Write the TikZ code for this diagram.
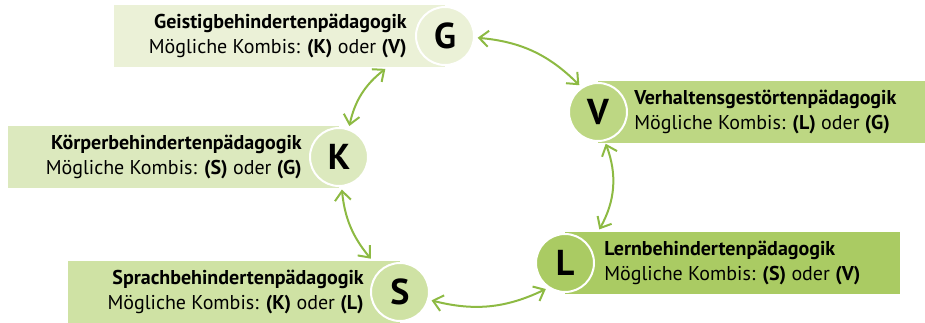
\documentclass[tikz,border=0pt]{standalone}
\usepackage{fontspec}
\setmainfont{PT Sans}
\usetikzlibrary{arrows.meta, calc}

\definecolor{gcol}{HTML}{EBF1D7}
\definecolor{kcol}{HTML}{DCE9BE}
\definecolor{scol}{HTML}{CFE2A4}
\definecolor{vcol}{HTML}{BDD783}
\definecolor{lcol}{HTML}{AACB63}
\definecolor{arrowcol}{HTML}{8DBA43}

\begin{document}
\begin{tikzpicture}[
            x = 0.75pt, y = -0.75pt,
            > = {Straight Barb[length=7pt, width=12pt]},
            shorten > = 2pt,
            shorten < = 2pt,
            bend angle = 20
        ]

        \tikzstyle{box}=[
            inner sep = 0pt,
            minimum height = 46.5pt
        ]
        \tikzstyle{letter}=[
            circle,
            draw = white,
            line width = 1.5pt,
            minimum size = 43.5pt,
            inner sep = 0pt,
            font = \fontsize{27}{27}\selectfont\bfseries
        ]
        \tikzstyle{info}=[
            inner sep = 0pt,
            font = \fontsize{15}{19}\selectfont
        ]
        \tikzstyle{link}=[<->, draw = arrowcol, line width = 1.5pt]

        \useasboundingbox (0,0) rectangle (925,322);

        % colour bars
        \node[box, fill=gcol, minimum width=248.25pt, anchor=east] (gbox) at (445,36) {};
        \node[box, fill=vcol, minimum width=245.25pt, anchor=west] (vbox) at (598,112) {};
        \node[box, fill=kcol, minimum width=248.25pt, anchor=east] (kbox) at (339,157) {};
        \node[box, fill=lcol, minimum width=251.25pt, anchor=west] (lbox) at (565,263) {};
        \node[box, fill=scol, minimum width=249pt, anchor=east] (sbox) at (400,292) {};

        % letters
        \node[letter, fill=gcol] (G) at (445,36) {G};
        \node[letter, fill=vcol] (V) at (598,112) {V};
        \node[letter, fill=kcol] (K) at (339,157) {K};
        \node[letter, fill=lcol] (L) at (565,263) {L};
        \node[letter, fill=scol] (S) at (400,292) {S};

        % texts
        \node[info, align=right, anchor=east] (gtxt) at (407,36)
            {\textbf{Geistigbehindertenpädagogik}\\Mögliche Kombis: \textbf{(K)} oder \textbf{(V)}};
        \node[info, align=left, anchor=west] (vtxt) at (634,112)
            {\textbf{Verhaltensgestörtenpädagogik}\\Mögliche Kombis: \textbf{(L)} oder \textbf{(G)}};
        \node[info, align=right, anchor=east] (ktxt) at (302,157)
            {\textbf{Körperbehindertenpädagogik}\\Mögliche Kombis: \textbf{(S)} oder \textbf{(G)}};
        \node[info, align=left, anchor=west] (ltxt) at (604,263)
            {\textbf{Lernbehindertenpädagogik}\\Mögliche Kombis: \textbf{(S)} oder \textbf{(V)}};
        \node[info, align=right, anchor=east] (stxt) at (364,292)
            {\textbf{Sprachbehindertenpädagogik}\\Mögliche Kombis: \textbf{(K)} oder \textbf{(L)}};

        % combinations
        \draw[link] (G.-3) to[bend left] (V.124);
        \draw[link] (V.-77) to[bend left=25] ($(lbox.north west)+(33,0)$);
        \draw[link] (L.-124) to[bend left] (S.-15);
        \draw[link] ($(sbox.north west)+(305,0)$) to[bend left=17] (K.-85);
        \draw[link] (K.71) to[bend left] ($(gbox.south west)+(274,0)$);

    \end{tikzpicture}
\end{document}
